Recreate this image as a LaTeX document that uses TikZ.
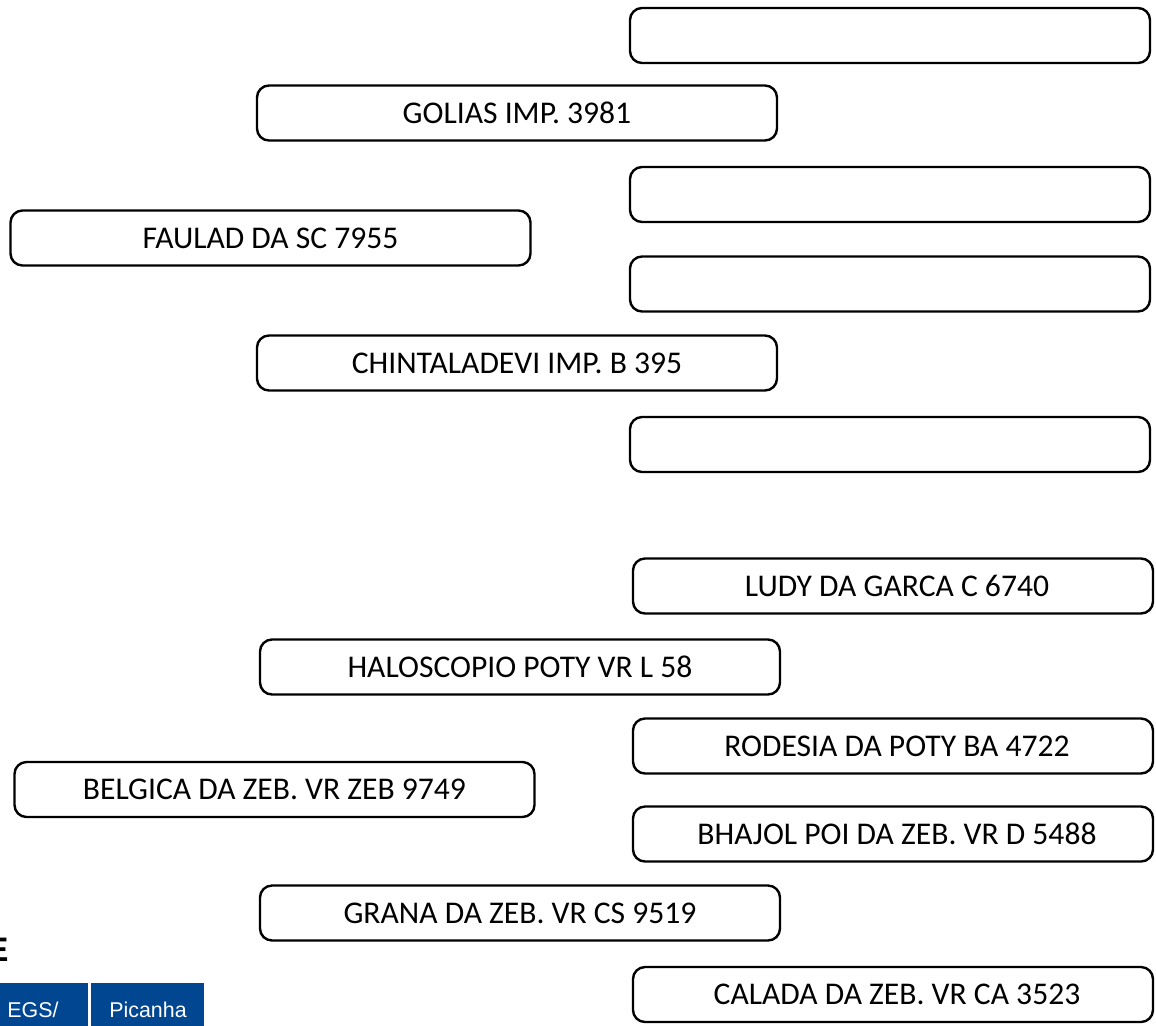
\documentclass[tikz,border=0pt]{standalone}
\usepackage{fontspec}
\setmainfont{Carlito}
\newfontfamily\arialfont{Liberation Sans}
\definecolor{tableblue}{RGB}{0,70,145}

\begin{document}
\begin{tikzpicture}[x=0.5pt, y=-0.5pt,
	namebox/.style={draw, line width=1.2pt, rounded corners=6pt, minimum width=260pt, minimum height=27.5pt, inner sep=0pt, font=\fontsize{15.8}{18}\selectfont},
	celltext/.style={text=white, inner sep=0pt, font=\arialfont\fontsize{10.7}{12}\selectfont}]
			\useasboundingbox (0,0) rectangle (1156,1025);
			
			% right column, empty boxes
			\node[namebox] (empty1) at (890,35.5) {};
			\node[namebox] (empty2) at (890,194.5) {};
			\node[namebox] (empty3) at (890,284) {};
			\node[namebox] (empty4) at (890,444.5) {};
			
			% middle column, top
			\node[namebox] (golias) at (517,113) {GOLIAS IMP. 3981};
			\node[namebox] (chintaladevi) at (517,363) {CHINTALADEVI IMP. B 395};
			
			% left column, top
			\node[namebox] (faulad) at (270.5,238) {FAULAD DA SC 7955};
			
			% right column, lower
			\node[namebox] (ludy) at (893,586) {\hspace*{4pt}LUDY DA GARCA C 6740};
			\node[namebox] (rodesia) at (893,746) {\hspace*{4pt}RODESIA DA POTY BA 4722};
			\node[namebox] (bhajol) at (893,834) {\hspace*{4pt}BHAJOL POI DA ZEB. VR D 5488};
			\node[namebox] (calada) at (893,994.5) {\hspace*{4pt}CALADA DA ZEB. VR CA 3523};
			
			% middle column, lower
			\node[namebox] (haloscopio) at (520,667) {HALOSCOPIO POTY VR L 58};
			\node[namebox] (grana) at (520,913) {GRANA DA ZEB. VR CS 9519};
			
			% left column, lower
			\node[namebox] (belgica) at (274.5,789.5) {BELGICA DA ZEB. VR ZEB 9749};
			
			% table corner
			\node[anchor=base east, inner sep=0pt, font=\arialfont\bfseries\fontsize{17}{20}\selectfont] (etitle) at (9,961) {E};
			\fill[tableblue] (-10,983) rectangle (88,1060);
			\fill[tableblue] (91,983) rectangle (204,1060);
			\node[celltext, anchor=base west] (egs) at (7,1017) {EGS/};
			\node[celltext, anchor=base] (picanha) at (148,1017) {Picanha};
		\end{tikzpicture}
\end{document}
